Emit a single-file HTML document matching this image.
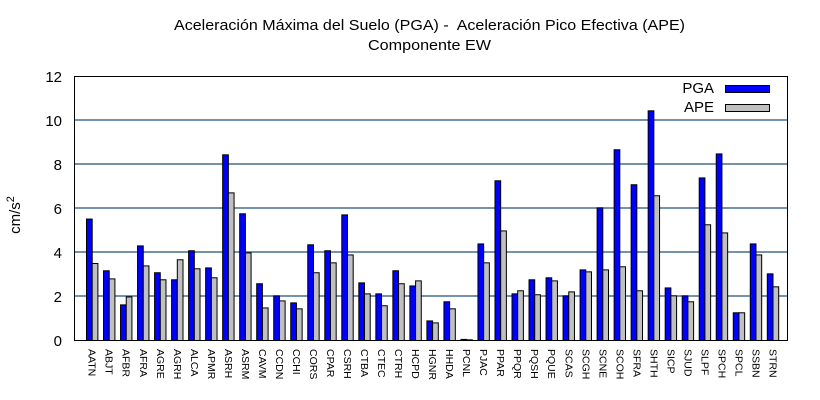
<!DOCTYPE html>
<html><head><meta charset="utf-8"><style>
html,body{margin:0;padding:0;background:#fff;}
svg{display:block;font-family:"Liberation Sans",sans-serif;}
</style></head><body>
<svg width="820" height="400" viewBox="0 0 820 400" xmlns="http://www.w3.org/2000/svg">
<rect width="820" height="400" fill="#fff"/>
<text x="174" y="30" font-size="15" textLength="511" lengthAdjust="spacingAndGlyphs" fill="#000">Aceleración Máxima del Suelo (PGA) -&#160; Aceleración Pico Efectiva (APE)</text>
<text x="368" y="50" font-size="15" textLength="123" lengthAdjust="spacingAndGlyphs" fill="#000">Componente EW</text>
<g stroke="#215079" stroke-width="1.2">
<line x1="74" x2="787" y1="120" y2="120"/>
<line x1="74" x2="787" y1="164" y2="164"/>
<line x1="74" x2="787" y1="208" y2="208"/>
<line x1="74" x2="787" y1="252" y2="252"/>
<line x1="74" x2="787" y1="296" y2="296"/>
</g>
<g font-size="15" text-anchor="end" fill="#000">
<text x="62" y="82">12</text><text x="62" y="126">10</text><text x="62" y="170">8</text>
<text x="62" y="214">6</text><text x="62" y="258">4</text><text x="62" y="302">2</text><text x="62" y="346">0</text>
</g>
<text transform="translate(20,215) rotate(-90)" font-size="15" text-anchor="middle">cm/s<tspan dy="-6" font-size="11">2</tspan></text>
<g id="bars" stroke="#000" stroke-width="1"></g>
<g id="labels" font-size="10.5" fill="#000"></g>
<rect x="74.5" y="76.5" width="713" height="264" fill="none" stroke="#000" stroke-width="1"/>
<text x="714" y="93" font-size="15" text-anchor="end">PGA</text>
<text x="714" y="112" font-size="15" text-anchor="end">APE</text>
<rect x="725.5" y="85.5" width="44" height="7" fill="#0000ff" stroke="#000"/>
<rect x="725.5" y="104.5" width="44" height="7" fill="#c0c0c0" stroke="#000"/>
<script>
var d=[["AATN",5.52,3.5],["ABJT",3.17,2.8],["AFBR",1.62,1.98],["AFRA",4.3,3.39],["AGRE",3.08,2.76],["AGRH",2.76,3.67],["ALCA",4.08,3.26],["APMR",3.3,2.85],["ASRH",8.44,6.71],["ASRM",5.76,3.98],["CAVM",2.58,1.48],["CCDN",2.03,1.8],["CCHI",1.71,1.44],["CORS",4.35,3.08],["CPAR",4.08,3.53],["CSRH",5.71,3.89],["CTBA",2.62,2.12],["CTEC",2.12,1.58],["CTRH",3.17,2.58],["HCPD",2.48,2.71],["HGNR",0.89,0.8],["HHDA",1.76,1.44],["PCNL",0.05,0.03],["PJAC",4.39,3.53],["PPAR",7.26,4.98],["PPQR",2.12,2.26],["PQSH",2.76,2.08],["PQUE",2.85,2.71],["SCAS",2.03,2.21],["SCGH",3.21,3.12],["SCNE",6.03,3.21],["SCOH",8.67,3.35],["SFRA",7.08,2.26],["SHTH",10.44,6.58],["SICP",2.39,2.03],["SJUD",2.03,1.76],["SLPF",7.39,5.26],["SPCH",8.48,4.89],["SPCL",1.26,1.26],["SSBN",4.39,3.89],["STRN",3.03,2.44]];
var ns="http://www.w3.org/2000/svg",b=document.getElementById("bars"),l=document.getElementById("labels");
d.forEach(function(r,i){
 var x=86.5+i*17.02;
 [[r[1],"#0000ff",0],[r[2],"#c0c0c0",5.7]].forEach(function(s){
  var e=document.createElementNS(ns,"rect"),h=s[0]*22;
  e.setAttribute("x",(x+s[2]).toFixed(2));e.setAttribute("y",(340.5-h).toFixed(2));
  e.setAttribute("width","5.7");e.setAttribute("height",h.toFixed(2));e.setAttribute("fill",s[1]);b.appendChild(e);
 });
 var t=document.createElementNS(ns,"text");
 t.setAttribute("transform","translate("+(x+2.2).toFixed(2)+",349) rotate(90)");
 t.textContent=r[0];l.appendChild(t);
});
</script>
</svg>
</body></html>
